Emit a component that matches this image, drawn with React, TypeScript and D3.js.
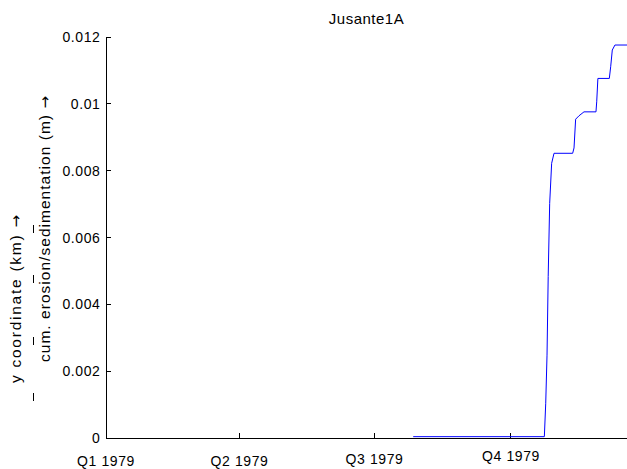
import React from "react";
import * as d3 from "d3";

const title = "Jusante1A";
const yLabelLine1 = "y coordinate (km) ";
const yLabelLine2 = "cum. erosion/sedimentation (m) ";
const arrow = "→";

const dates = [
  "1979-07-27T02:00Z", "1979-10-23T12:00Z", "1979-10-24T10:00Z", "1979-10-25T07:00Z",
  "1979-10-26T02:00Z", "1979-10-27T02:00Z", "1979-10-28T10:00Z", "1979-10-30T00:00Z",
  "1979-11-11T14:00Z", "1979-11-12T12:00Z", "1979-11-13T14:00Z", "1979-11-15T19:00Z",
  "1979-11-19T05:00Z", "1979-11-27T07:00Z", "1979-11-27T19:00Z", "1979-11-28T14:00Z",
  "1979-12-06T07:00Z", "1979-12-07T05:00Z", "1979-12-08T07:00Z", "1979-12-10T02:00Z",
  "1979-12-20T00:00Z",
];
const values = [
  0.00004, 0.00004, 0.00104, 0.00248,
  0.00483, 0.00702, 0.00822, 0.00852,
  0.00852, 0.00868, 0.00954, 0.00964,
  0.00976, 0.00976, 0.01006, 0.01076,
  0.01076, 0.01111, 0.01161, 0.01176,
  0.01176,
];

const xTickDates = ["1979-01-01T00:00Z", "1979-04-01T00:00Z", "1979-07-01T00:00Z", "1979-10-01T00:00Z"];
const xTickLabels = ["Q1 1979", "Q2 1979", "Q3 1979", "Q4 1979"];
const xTickLabelDrop = [28, 28, 26, 23];
const yTicks = [0, 0.002, 0.004, 0.006, 0.008, 0.01, 0.012];
const yTickLabels = ["0", "0.002", "0.004", "0.006", "0.008", "0.01", "0.012"];
const xDomain = ["1979-01-01T00:00Z", "1979-12-18T05:00Z"];
const yDomain = [0, 0.012];

export default function App() {
  const W = 627, H = 469;
  const left = 106, right = 627, top = 37, bottom = 438;
  const x = d3.scaleUtc().domain(xDomain.map((d) => new Date(d))).range([left, right]);
  const y = d3.scaleLinear().domain(yDomain).range([bottom, top]);
  const pts = dates.map((d, i) => [new Date(d), values[i]] as [Date, number]);
  const line = d3.line<[Date, number]>().x((d) => x(d[0])).y((d) => y(d[1]));
  const font = "'Liberation Sans', Arial, sans-serif";
  const barYs = [229, 279, 341, 397];
  const fs = 14;
  const ls = 0.6;

  return (
    <svg width={W} height={H} style={{ position: "absolute", left: 0, top: 0, background: "#fff" }}
      fontFamily={font}>
      <rect x={0} y={0} width={W} height={H} fill="#fff" />
      <defs>
        <clipPath id="plotclip">
          <rect x={left} y={top - 2} width={right - left} height={bottom - top + 4} />
        </clipPath>
      </defs>
      <text x={(left + right) / 2} y={24} textAnchor="middle" fontSize={15} letterSpacing={0.5} fill="#000">{title}</text>
      {/* axes */}
      <line x1={left} x2={left} y1={top} y2={bottom} stroke="#000" strokeWidth={1} shapeRendering="crispEdges" />
      <line x1={left} x2={right} y1={bottom} y2={bottom} stroke="#000" strokeWidth={1} shapeRendering="crispEdges" />
      {yTicks.map((t, i) => (
        <g key={"y" + i}>
          <line x1={left} x2={left + 5} y1={y(t)} y2={y(t)} stroke="#000" shapeRendering="crispEdges" />
          <text x={left - 5.5} y={y(t) + 5} textAnchor="end" fontSize={fs} letterSpacing={ls} fill="#000">{yTickLabels[i]}</text>
        </g>
      ))}
      {xTickDates.map((d, i) => {
        const px = x(new Date(d));
        return (
          <g key={"x" + i}>
            <line x1={px} x2={px} y1={bottom} y2={bottom - 5} stroke="#000" shapeRendering="crispEdges" />
            <text x={px} y={bottom + xTickLabelDrop[i]} textAnchor="middle" fontSize={fs} letterSpacing={ls} fill="#000">{xTickLabels[i]}</text>
          </g>
        );
      })}
      <path d={line(pts) || ""} fill="none" stroke="#0000ff" strokeWidth={1} clipPath="url(#plotclip)" />
      {/* y label */}
      <text transform="translate(21,383) rotate(-90)" fontSize={15.5} textLength={168} lengthAdjust="spacing" fill="#000">
        {yLabelLine1}<tspan fontFamily="'DejaVu Sans'" fontSize={15}>{arrow}</tspan>
      </text>
      <text transform="translate(50,362) rotate(-90)" fontSize={15.5} textLength={266} lengthAdjust="spacing" fill="#000">
        {yLabelLine2}<tspan fontFamily="'DejaVu Sans'" fontSize={15}>{arrow}</tspan>
      </text>
      {barYs.map((by, i) => (
        <line key={"b" + i} x1={33.5} x2={33.5} y1={by - 4} y2={by + 4} stroke="#000" strokeWidth={1} />
      ))}
    </svg>
  );
}
